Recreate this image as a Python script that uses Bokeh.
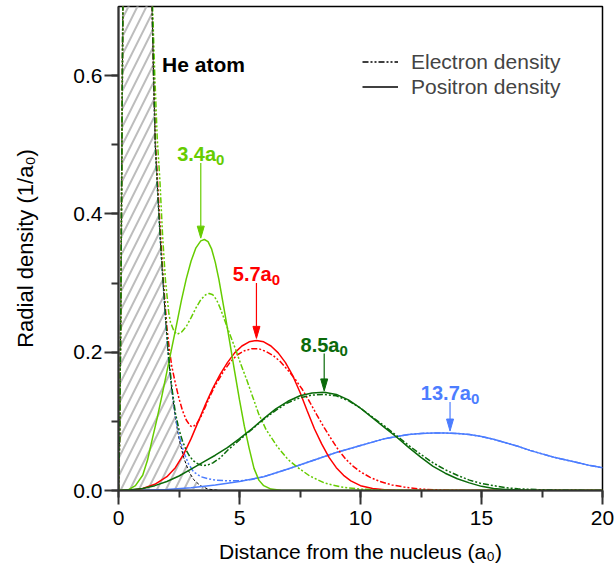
from bokeh.plotting import figure
from bokeh.models import (Range1d, SingleIntervalTicker, NumeralTickFormatter, Label,
                          Legend, LegendItem)
from bokeh.embed import file_html
from bokeh.resources import INLINE

FONT = "Liberation Sans"

# ---------------- data ----------------
he_x = [0, 0.05, 0.1, 0.15, 0.2, 0.5, 1.0, 1.39, 1.45, 1.52, 1.62, 1.75, 1.84, 1.95, 2.07, 2.2, 2.35, 2.5, 2.69, 2.9, 3.1, 3.38, 3.7, 4.2]
he_y = [0, 0.08, 0.28, 0.55, 0.8, 1.6, 1.2, 0.7, 0.6, 0.5, 0.43, 0.35, 0.30, 0.245, 0.19, 0.145, 0.105, 0.075, 0.048, 0.028, 0.016, 0.007, 0.002, 0]

# 3.4 a0 state (light green)
lgp_x = [0, 0.4, 0.7, 1.0, 1.2, 1.4, 1.6, 1.8, 2.0, 2.2, 2.4, 2.6, 2.8, 3.0, 3.2, 3.4, 3.55, 3.7, 3.85, 4.0, 4.15, 4.3, 4.45, 4.6, 4.8, 5.0, 5.2, 5.4, 5.6, 5.8, 6.0, 6.3, 6.7, 7.2, 20]
lgp_y = [0, 0.001, 0.007, 0.022, 0.044, 0.075, 0.105, 0.138, 0.172, 0.206, 0.24, 0.275, 0.306, 0.332, 0.351, 0.361, 0.363, 0.36, 0.349, 0.33, 0.305, 0.275, 0.245, 0.214, 0.172, 0.131, 0.093, 0.061, 0.032, 0.015, 0.007, 0.002, 0.0005, 0, 0]
lge_x = [0, 0.05, 0.1, 0.15, 0.2, 0.5, 1.0, 1.4, 1.5, 1.6, 1.71, 1.82, 1.94, 2.08, 2.15, 2.3, 2.42, 2.6, 2.8, 3.0, 3.2, 3.4, 3.6, 3.75, 3.9, 4.05, 4.2, 4.4, 4.6, 4.83, 5.05, 5.31, 5.55, 5.79, 6.1, 6.55, 7.0, 7.38, 7.9, 8.5, 9.2, 10, 11, 12, 20]
lge_y = [0, 0.08, 0.28, 0.55, 0.8, 1.6, 1.2, 0.71, 0.6, 0.51, 0.449, 0.37, 0.304, 0.256, 0.243, 0.23, 0.226, 0.229, 0.237, 0.25, 0.264, 0.276, 0.283, 0.285, 0.283, 0.276, 0.264, 0.245, 0.226, 0.205, 0.183, 0.159, 0.135, 0.111, 0.088, 0.064, 0.045, 0.034, 0.021, 0.011, 0.005, 0.002, 0.0005, 0, 0]

# 5.7 a0 state (red)
rp_x = [0, 0.5, 1.0, 1.5, 2.0, 2.35, 2.7, 3.0, 3.3, 3.6, 3.9, 4.2, 4.5, 4.8, 5.1, 5.4, 5.7, 6.0, 6.3, 6.6, 6.9, 7.2, 7.5, 7.8, 8.1, 8.4, 8.7, 9.0, 9.3, 9.6, 10.0, 10.5, 11.0, 11.5, 20]
rp_y = [0, 0.0005, 0.003, 0.009, 0.02, 0.033, 0.053, 0.075, 0.1, 0.125, 0.148, 0.168, 0.185, 0.199, 0.209, 0.215, 0.217, 0.215, 0.209, 0.199, 0.185, 0.166, 0.142, 0.115, 0.089, 0.067, 0.048, 0.033, 0.022, 0.014, 0.007, 0.003, 0.001, 0, 0]
re_x = [0, 0.05, 0.1, 0.15, 0.2, 0.5, 1.0, 1.39, 1.45, 1.53, 1.64, 1.84, 2.0, 2.1, 2.2, 2.35, 2.5, 2.65, 2.8, 2.95, 3.05, 3.2, 3.4, 3.6, 3.8, 4.0, 4.3, 4.6, 4.9, 5.2, 5.5, 5.8, 6.1, 6.4, 6.7, 7.0, 7.3, 7.6, 7.9, 8.2, 8.5, 8.8, 9.1, 9.4, 9.7, 10.0, 10.4, 10.8, 11.3, 11.8, 12.5, 13.5, 14.5, 20]
re_y = [0, 0.08, 0.28, 0.55, 0.8, 1.6, 1.2, 0.7, 0.6, 0.5, 0.43, 0.31, 0.235, 0.205, 0.18, 0.155, 0.133, 0.115, 0.102, 0.094, 0.092, 0.095, 0.106, 0.122, 0.138, 0.152, 0.17, 0.185, 0.196, 0.202, 0.205, 0.205, 0.201, 0.195, 0.186, 0.174, 0.161, 0.146, 0.128, 0.109, 0.091, 0.074, 0.058, 0.045, 0.035, 0.027, 0.019, 0.013, 0.008, 0.005, 0.002, 0.0005, 0, 0]

# 8.5 a0 state (dark green)
dgp_x = [0, 0.5, 1.0, 1.5, 2.0, 2.5, 3.0, 3.5, 4.0, 4.5, 5.0, 5.5, 6.0, 6.5, 7.0, 7.5, 8.0, 8.5, 9.0, 9.5, 10.0, 10.5, 11.0, 11.5, 12.0, 12.5, 13.0, 13.5, 14.0, 14.5, 15.0, 15.5, 16.0, 17, 18, 20]
dgp_y = [0, 0.001, 0.003, 0.007, 0.013, 0.021, 0.031, 0.041, 0.051, 0.062, 0.075, 0.089, 0.104, 0.118, 0.129, 0.137, 0.141, 0.142, 0.139, 0.131, 0.119, 0.105, 0.091, 0.077, 0.062, 0.048, 0.035, 0.025, 0.017, 0.011, 0.006, 0.003, 0.0015, 0.0003, 0, 0]
dge_x = [0, 0.05, 0.1, 0.15, 0.2, 0.5, 1.0, 1.39, 1.45, 1.52, 1.62, 1.75, 1.84, 1.95, 2.07, 2.2, 2.35, 2.5, 2.65, 2.8, 2.95, 3.1, 3.3, 3.5, 3.7, 3.9, 4.2, 4.5, 5.0, 5.5, 6.0, 6.5, 7.0, 7.5, 8.0, 8.5, 9.0, 9.5, 10.0, 10.5, 11.0, 11.5, 12.0, 12.5, 13.0, 13.5, 14.0, 14.5, 15.0, 15.5, 16.0, 16.5, 17.5, 18.5, 20]
dge_y = [0, 0.08, 0.28, 0.55, 0.8, 1.6, 1.2, 0.7, 0.6, 0.5, 0.43, 0.35, 0.305, 0.25, 0.195, 0.15, 0.112, 0.088, 0.071, 0.058, 0.049, 0.043, 0.038, 0.036, 0.037, 0.04, 0.047, 0.058, 0.073, 0.088, 0.103, 0.116, 0.127, 0.134, 0.138, 0.139, 0.137, 0.13, 0.119, 0.106, 0.093, 0.079, 0.065, 0.052, 0.04, 0.03, 0.022, 0.015, 0.01, 0.007, 0.004, 0.0025, 0.001, 0.0003, 0]

# 13.7 a0 state (blue)
bp_x = [0, 1, 2, 3, 4, 5, 6, 7, 8, 9, 10, 10.5, 11, 11.5, 12, 12.5, 13, 13.5, 14, 14.5, 15, 15.5, 16, 16.5, 17, 17.5, 18, 18.5, 19, 19.5, 20]
bp_y = [0, 0.0005, 0.0015, 0.004, 0.008, 0.013, 0.02, 0.031, 0.043, 0.055, 0.065, 0.07, 0.075, 0.078, 0.081, 0.0825, 0.083, 0.083, 0.0825, 0.081, 0.078, 0.074, 0.069, 0.064, 0.058, 0.053, 0.048, 0.044, 0.04, 0.036, 0.033]
be_x = [0, 0.05, 0.1, 0.15, 0.2, 0.5, 1.0, 1.39, 1.45, 1.52, 1.62, 1.75, 1.84, 1.95, 2.07, 2.2, 2.35, 2.5, 2.7, 2.9, 3.1, 3.4, 3.7, 4.0, 4.5, 5.0, 5.5, 6.0, 7, 8, 9, 10, 10.5, 11, 11.5, 12, 12.5, 13, 13.5, 14, 14.5, 15, 15.5, 16, 16.5, 17, 17.5, 18, 18.5, 19, 19.5, 20]
be_y = [0, 0.08, 0.28, 0.55, 0.8, 1.6, 1.2, 0.7, 0.6, 0.5, 0.43, 0.35, 0.30, 0.245, 0.19, 0.148, 0.108, 0.08, 0.055, 0.038, 0.027, 0.02, 0.017, 0.015, 0.014, 0.014, 0.016, 0.02, 0.031, 0.043, 0.055, 0.065, 0.07, 0.075, 0.078, 0.081, 0.0825, 0.083, 0.083, 0.0825, 0.081, 0.078, 0.074, 0.069, 0.064, 0.058, 0.053, 0.048, 0.044, 0.04, 0.036, 0.033]

peak_labels = ["3.4", "5.7", "8.5", "13.7"]
peak_x = [3.4, 5.7, 8.5, 13.7]
peak_tip_y = [0.365, 0.22, 0.144, 0.086]

legend_labels = ["Electron density", "Positron density"]

# ---------------- layout / styles ----------------
peak_top_y = [0.4735, 0.30, 0.198, 0.128]   # label/arrow start heights
LG = "#66CC00"
RED = "#FF0000"
DG = "#0A6A0A"
BLUE = "#4C7DFF"
peak_colors = [LG, RED, DG, BLUE]
E_DASH = "6 2 2 2 2 2"
LW = 1.5

X0, X1, Y0, Y1 = 0, 20, 0, 0.7
FW, FH = 484, 484  # frame size in px

p = figure(width=616, height=574, output_backend="svg", toolbar_location=None,
           x_range=Range1d(X0, X1), y_range=Range1d(Y0, Y1),
           min_border_left=118, min_border_right=14, min_border_top=6, min_border_bottom=84)
p.grid.visible = False
p.background_fill_color = "white"
p.border_fill_color = "white"
p.outline_line_color = "black"
p.outline_line_width = 1.5

p.xaxis.ticker = SingleIntervalTicker(interval=5, num_minor_ticks=2)
p.yaxis.ticker = SingleIntervalTicker(interval=0.2, num_minor_ticks=2)
p.yaxis.formatter = NumeralTickFormatter(format="0.0")
p.xaxis.axis_label = "Distance from the nucleus (a\u2080)"
p.yaxis.axis_label = "Radial density (1/a\u2080)"
for ax in (p.xaxis[0], p.yaxis[0]):
    ax.axis_line_width = 2
    ax.axis_line_color = "#333333"
    ax.major_tick_line_color = "#333333"
    ax.major_tick_line_width = 2
    ax.minor_tick_line_color = "#333333"
    ax.minor_tick_line_width = 2
    ax.major_tick_out = 14
    ax.major_tick_in = 0
    ax.minor_tick_out = 7
    ax.minor_tick_in = 0
    ax.major_label_text_font = FONT
    ax.major_label_text_font_size = "21px"
    ax.major_label_text_color = "black"
    ax.axis_label_text_font = FONT
    ax.axis_label_text_font_size = "21px"
    ax.axis_label_text_font_style = "normal"
    ax.axis_label_text_color = "black"
p.yaxis.axis_label_text_font_size = "22px"
p.xaxis.major_label_standoff = 6
p.yaxis.major_label_standoff = 2
p.xaxis.axis_label_standoff = 12
p.yaxis.axis_label_standoff = 32

# hatched He atom region
p.varea(x=he_x, y1=[0] * len(he_x), y2=he_y, fill_alpha=0, hatch_pattern="/",
        hatch_color="#bdbdbd", hatch_weight=2, hatch_scale=18)
p.line(he_x, he_y, line_color="black", line_width=1, line_dash="3 2")

# curves
p.line(bp_x, bp_y, line_color=BLUE, line_width=LW)
p.line(be_x, be_y, line_color=BLUE, line_width=LW, line_dash=E_DASH)
p.line(rp_x, rp_y, line_color=RED, line_width=LW)
p.line(re_x, re_y, line_color=RED, line_width=LW, line_dash=E_DASH)
p.line(lgp_x, lgp_y, line_color=LG, line_width=LW)
p.line(lge_x, lge_y, line_color=LG, line_width=LW, line_dash=E_DASH)
p.line(dgp_x, dgp_y, line_color=DG, line_width=LW)
p.line(dge_x, dge_y, line_color=DG, line_width=LW, line_dash=E_DASH)

# arrows and labels
ux = (X1 - X0) / FW
uy = (Y1 - Y0) / FH
head_hw = 3.5 * ux
head_len = 12 * uy
cw = {".": 0.278}
for lab, x, tip, top, col in zip(peak_labels, peak_x, peak_tip_y, peak_top_y, peak_colors):
    p.segment(x0=[x], y0=[top], x1=[x], y1=[tip + head_len], line_color=col, line_width=1.2)
    p.patch([x - head_hw, x + head_hw, x], [tip + head_len, tip + head_len, tip],
            fill_color=col, line_color=col, line_width=1)
    main = lab + "a"
    w_main = sum(cw.get(c, 0.556) for c in main) * 20
    w_sub = 0.556 * 15
    off = (w_main - w_sub) / 2
    p.add_layout(Label(x=x, y=top, x_offset=off, y_offset=9, text=main, text_align="right",
                       text_baseline="alphabetic", text_font=FONT, text_font_size="20px",
                       text_font_style="bold", text_color=col))
    p.add_layout(Label(x=x, y=top, x_offset=off, y_offset=3, text="0", text_align="left",
                       text_baseline="alphabetic", text_font=FONT, text_font_size="15px",
                       text_font_style="bold", text_color=col))

p.add_layout(Label(x=1.8, y=0.616, text="He atom", text_align="left", text_baseline="alphabetic",
                   text_font=FONT, text_font_size="21px", text_font_style="bold", text_color="black"))

# legend (sample renderers lie outside the visible ranges)
r_e = p.line(x=[X0 - 5, X0 - 4], y=[Y0 - 1, Y0 - 1], line_color="black", line_width=LW, line_dash=E_DASH)
r_p = p.line(x=[X0 - 5, X0 - 4], y=[Y0 - 1, Y0 - 1], line_color="black", line_width=LW)
legend = Legend(items=[LegendItem(label=legend_labels[0], renderers=[r_e]),
                       LegendItem(label=legend_labels[1], renderers=[r_p])],
                location=(244, 391))
legend.border_line_color = None
legend.background_fill_alpha = 0
legend.label_text_font = FONT
legend.label_text_font_size = "21px"
legend.glyph_width = 36
legend.glyph_height = 25
legend.label_height = 25
legend.spacing = 0
legend.padding = 0
legend.margin = 0
legend.label_standoff = 13
p.add_layout(legend)

open("out.html", "w").write(file_html(p, INLINE))
